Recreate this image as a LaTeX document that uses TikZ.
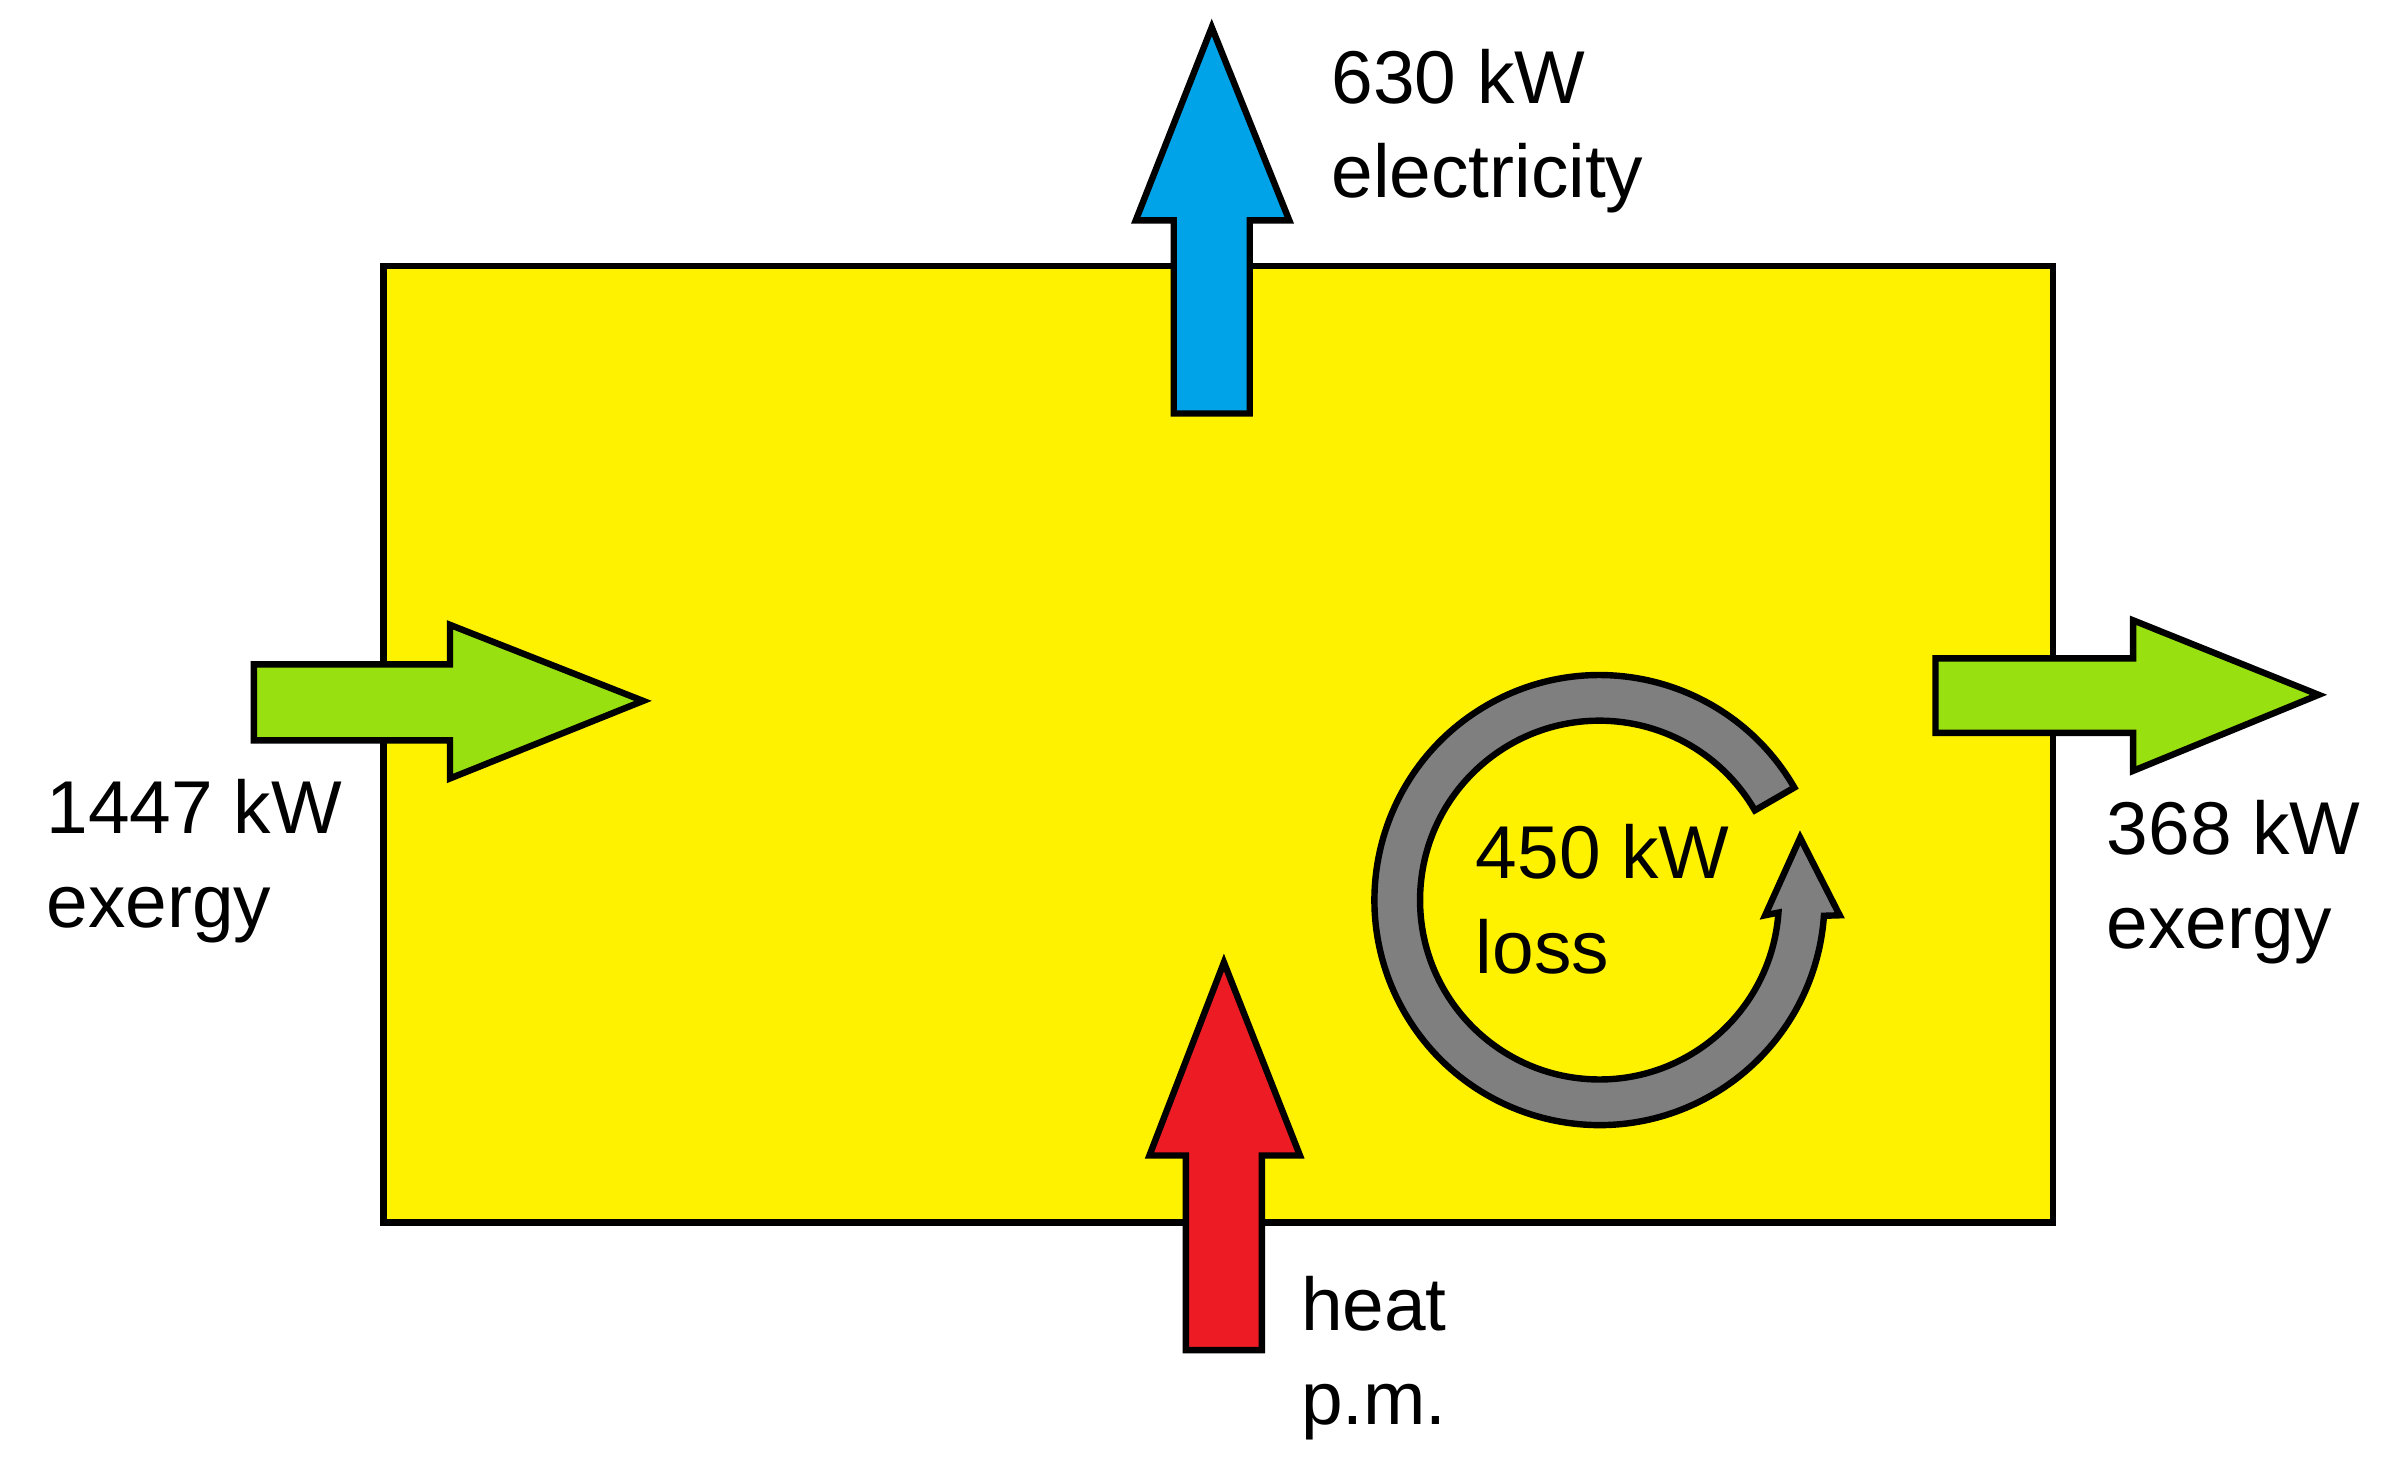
\documentclass[tikz,border=0pt]{standalone}
\usepackage{fontspec}
\setmainfont{Liberation Sans}
\definecolor{boxy}{HTML}{FFF200}
\definecolor{bluea}{HTML}{00A2E8}
\definecolor{greena}{HTML}{99E010}
\definecolor{reda}{HTML}{ED1C24}
\definecolor{graya}{HTML}{7F7F7F}
\begin{document}
\begin{tikzpicture}[x=0.01cm,y=-0.01cm,
  lbl/.style={anchor=base west,inner sep=0,align=left,font=\fontsize{14}{17.6}\selectfont},
  arr/.style={draw=black,line width=1.2pt,line join=miter}]
\useasboundingbox (0,0) rectangle (1568,958);
\node[draw=black,line width=1.2pt,fill=boxy,minimum width=1098*0.01cm,minimum height=629*0.01cm,anchor=north west,inner sep=0] (box) at (250,173) {};
% blue up arrow
\draw[arr,fill=bluea] (772,272) -- (772,145) -- (747,145) -- (797,18) -- (848,145) -- (822,145) -- (822,272) -- cycle;
% green left arrow
\draw[arr,fill=greena] (167,437) -- (296,437) -- (296,411) -- (423,461) -- (296,512) -- (296,487) -- (167,487) -- cycle;
% green right arrow
\draw[arr,fill=greena] (1273,433) -- (1403,433) -- (1403,408) -- (1525,457) -- (1403,507) -- (1403,482) -- (1273,482) -- cycle;
% red arrow
\draw[arr,fill=reda] (780,888) -- (780,760) -- (756,760) -- (805,633) -- (855,760) -- (830,760) -- (830,888) -- cycle;
% loss circle
\coordinate (c) at (1052,592);
\draw[arr,fill=graya] ([shift={(-30:148)}]c) arc[start angle=-30,end angle=-356,radius=148]
  -- (1210,602) -- (1184,551) -- (1161,602)
  -- ([shift={(-356:118)}]c) arc[start angle=-356,end angle=-30,radius=118] -- cycle;
\node[lbl] (el) at (875,130) {630 kW\\electricity};
\node[lbl] (in) at (30,610) {1447 kW\\exergy};
\node[lbl] (out) at (1385,624) {368 kW\\exergy};
\node[lbl] (loss) at (970,640) {450 kW\\loss};
\node[lbl] (heat) at (855,937) {heat\\p.m.};
\end{tikzpicture}
\end{document}
